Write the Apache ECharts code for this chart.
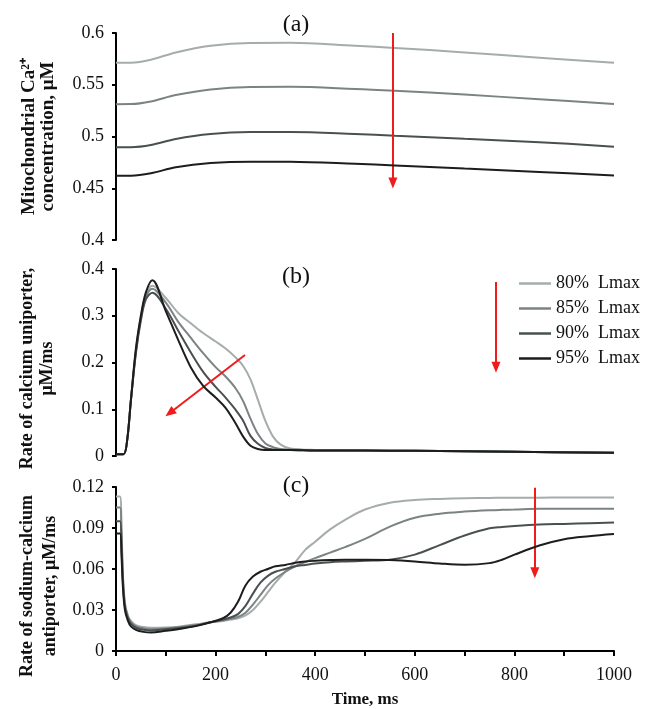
<!DOCTYPE html>
<html>
<head>
<meta charset="utf-8">
<script src="https://cdn.jsdelivr.net/npm/echarts@6/dist/echarts.min.js"></script>
<style>
  html, body { margin: 0; padding: 0; background: #fff; }
  #chart { width: 646px; height: 709px; }
</style>
</head>
<body>
<div id="chart"></div>
<script>
// Series labels and stroke colours (light to dark)
const seriesNames = ['80%  Lmax', '85%  Lmax', '90%  Lmax', '95%  Lmax'];
const seriesColors = ['#a6acac', '#7c8384', '#4a5051', '#1d1d1d'];

// (a) Mitochondrial Ca2+ concentration, µM
const timeA = [0, 30, 70, 120, 190, 270, 350, 480, 560, 700, 850, 1000];
const caMito80 = [0.5712, 0.5713, 0.5742, 0.5812, 0.5876, 0.5904, 0.5906, 0.5876, 0.5856, 0.5812, 0.5762, 0.5712];
const caMito85 = [0.5312, 0.5313, 0.5338, 0.5400, 0.5455, 0.5478, 0.5480, 0.5460, 0.5442, 0.5405, 0.5360, 0.5315];
const caMito90 = [0.4895, 0.4896, 0.4918, 0.4976, 0.5024, 0.5043, 0.5044, 0.5025, 0.5008, 0.4978, 0.4945, 0.4902];
const caMito95 = [0.4620, 0.4621, 0.4645, 0.4702, 0.4743, 0.4757, 0.4756, 0.4736, 0.4720, 0.4690, 0.4658, 0.4622];

// (b) Rate of calcium uniporter, µM/ms
const timeB = [0, 15, 22, 30, 40, 50, 60, 73, 100, 125, 150, 175, 200, 220, 240, 255, 270, 285, 300, 315, 330, 350, 400, 500, 600, 800, 1000];
const uni80 = [0.004, 0.004, 0.03, 0.12, 0.225, 0.300, 0.345, 0.364, 0.338, 0.306, 0.284, 0.263, 0.245, 0.230, 0.211, 0.193, 0.164, 0.120, 0.075, 0.042, 0.025, 0.016, 0.013, 0.012, 0.011, 0.009, 0.007];
const uni85 = [0.004, 0.004, 0.03, 0.12, 0.225, 0.295, 0.340, 0.358, 0.328, 0.287, 0.253, 0.220, 0.190, 0.170, 0.145, 0.118, 0.080, 0.047, 0.027, 0.019, 0.015, 0.014, 0.012, 0.012, 0.011, 0.009, 0.007];
const uni90 = [0.004, 0.004, 0.03, 0.12, 0.220, 0.290, 0.335, 0.349, 0.315, 0.268, 0.222, 0.180, 0.148, 0.125, 0.099, 0.076, 0.043, 0.026, 0.017, 0.014, 0.013, 0.013, 0.012, 0.012, 0.011, 0.009, 0.007];
const uni95 = [0.004, 0.004, 0.03, 0.12, 0.230, 0.300, 0.350, 0.376, 0.310, 0.248, 0.190, 0.150, 0.125, 0.103, 0.070, 0.042, 0.022, 0.015, 0.013, 0.013, 0.013, 0.013, 0.012, 0.012, 0.011, 0.009, 0.007];

// (c) Rate of sodium-calcium antiporter, µM/ms
const timeC = [0, 8, 11, 14, 18, 24, 30, 40, 55, 70, 100, 130, 160, 190, 215, 230, 245, 260, 275, 290, 305, 320, 340, 360, 380, 400, 430, 460, 500, 550, 600, 650, 700, 750, 775, 800, 850, 900, 950, 1000];
const ncx80 = [0.113, 0.113, 0.090, 0.055, 0.035, 0.026, 0.022, 0.019, 0.0175, 0.017, 0.0172, 0.018, 0.0195, 0.021, 0.022, 0.023, 0.024, 0.026, 0.030, 0.036, 0.043, 0.050, 0.058, 0.065, 0.074, 0.080, 0.089, 0.096, 0.1035, 0.1085, 0.1105, 0.1113, 0.1118, 0.112, 0.1121, 0.1122, 0.1122, 0.1123, 0.1123, 0.1123];
const ncx85 = [0.105, 0.105, 0.085, 0.053, 0.034, 0.025, 0.021, 0.018, 0.0165, 0.016, 0.0165, 0.0175, 0.019, 0.021, 0.0225, 0.0235, 0.025, 0.028, 0.034, 0.041, 0.048, 0.053, 0.058, 0.062, 0.065, 0.068, 0.072, 0.076, 0.082, 0.091, 0.0975, 0.1005, 0.102, 0.103, 0.1033, 0.1035, 0.104, 0.104, 0.104, 0.104];
const ncx90 = [0.095, 0.095, 0.078, 0.050, 0.032, 0.024, 0.020, 0.017, 0.0155, 0.015, 0.016, 0.017, 0.0185, 0.021, 0.023, 0.0245, 0.027, 0.033, 0.042, 0.050, 0.055, 0.058, 0.060, 0.062, 0.063, 0.064, 0.065, 0.0655, 0.066, 0.0668, 0.0705, 0.0775, 0.0845, 0.0898, 0.0908, 0.0915, 0.0925, 0.093, 0.0935, 0.094];
const ncx95 = [0.086, 0.086, 0.070, 0.046, 0.030, 0.022, 0.018, 0.0155, 0.014, 0.0135, 0.0148, 0.0163, 0.0182, 0.021, 0.024, 0.028, 0.036, 0.048, 0.0545, 0.058, 0.060, 0.062, 0.063, 0.0645, 0.0655, 0.066, 0.0665, 0.0668, 0.0668, 0.0665, 0.0655, 0.064, 0.0631, 0.0643, 0.0668, 0.0705, 0.0772, 0.0818, 0.084, 0.0856];

// Red trend arrows, [x, y] in data units: [start, end]
const arrowA = [[556, 0.6], [556, 0.455]];
const arrowB1 = [[763, 0.372], [763, 0.19]];
const arrowB2 = [[259, 0.216], [108, 0.092]];
const arrowC = [[841, 0.1195], [841, 0.0573]];

const serif = 'Liberation Serif';
const chart = echarts.init(document.getElementById('chart'));

const grids = [
  { left: 116, right: 32, top: 33, height: 207 },
  { left: 116, right: 32, top: 269, height: 187 },
  { left: 116, right: 32, top: 487, height: 165 }
];

function pairs(times, vals) { return times.map((t, i) => [t, vals[i]]); }

function arrowLine(seg) {
  return {
    silent: true,
    animation: false,
    symbol: ['none', 'triangle'],
    symbolSize: [9, 11],
    label: { show: false },
    lineStyle: { color: '#f01c1c', width: 2, type: 'solid' },
    itemStyle: { color: '#f01c1c' },
    emphasis: { disabled: true },
    data: [[{ coord: seg[0] }, { coord: seg[1] }]]
  };
}

const panels = [
  { times: timeA, vals: [caMito80, caMito85, caMito90, caMito95], arrows: [arrowA] },
  { times: timeB, vals: [uni80, uni85, uni90, uni95], arrows: [arrowB1, arrowB2] },
  { times: timeC, vals: [ncx80, ncx85, ncx90, ncx95], arrows: [arrowC] }
];

const series = [];
panels.forEach((p, gi) => {
  p.vals.forEach((v, si) => {
    series.push({
      name: seriesNames[si],
      type: 'line',
      xAxisIndex: gi,
      yAxisIndex: gi,
      data: pairs(p.times, v),
      showSymbol: false,
      symbol: 'none',
      smooth: 0.35,
      lineStyle: { color: seriesColors[si], width: 2 },
      itemStyle: { color: seriesColors[si] },
      animation: false,
      z: 2 + si
    });
  });
  // arrows ride on dedicated empty series so they sit on top
  p.arrows.forEach(seg => {
    series.push({
      type: 'line', xAxisIndex: gi, yAxisIndex: gi, data: [],
      symbol: 'none', animation: false, z: 10,
      markLine: arrowLine(seg)
    });
  });
});

const axisLineStyle = { show: true, lineStyle: { color: '#000', width: 2 } };
const tickLabel = { fontFamily: serif, fontSize: 18, color: '#111', margin: 12 };

function xAx(gi, visible) {
  return {
    type: 'value', gridIndex: gi, min: 0, max: 1000, interval: 100,
    show: visible,
    axisLine: axisLineStyle,
    axisTick: { show: true, inside: false, length: 5, lineStyle: { color: '#000', width: 2 } },
    axisLabel: Object.assign({}, tickLabel, {
      margin: 15,
      formatter: v => (v % 200 === 0 ? String(v) : '')
    }),
    splitLine: { show: false },
    name: visible ? 'Time, ms' : '',
    nameLocation: 'middle',
    nameGap: 40,
    nameTextStyle: { fontFamily: serif, fontSize: 17, fontWeight: 'bold', color: '#111' }
  };
}

function yAx(gi, min, max, interval, name, fmt, nameFont, nameGap, shift) {
  return {
    type: 'value', gridIndex: gi, min: min, max: max, interval: interval,
    axisLine: axisLineStyle,
    axisTick: { show: true, inside: false, length: 4, lineStyle: { color: '#000', width: 2 } },
    axisLabel: Object.assign({}, tickLabel, { formatter: fmt }),
    splitLine: { show: false },
    name: name,
    nameLocation: 'middle',
    nameGap: nameGap,
    nameTextStyle: {
      fontFamily: serif, fontSize: nameFont.size, fontWeight: 'bold', color: '#111',
      lineHeight: nameFont.lh, padding: [0, shift, 0, 0]
    }
  };
}

const trim = d => v => String(parseFloat(v.toFixed(d)));

const titleStyle = { fontFamily: serif, fontSize: 24, fontWeight: 'normal', color: '#111' };

const option = {
  backgroundColor: '#fff',
  animation: false,
  title: [
    { text: '(a)', left: 291, top: 8, textAlign: 'center', textStyle: titleStyle },
    { text: '(b)', left: 291, top: 260, textAlign: 'center', textStyle: titleStyle },
    { text: '(c)', left: 291, top: 469, textAlign: 'center', textStyle: titleStyle }
  ],
  legend: {
    data: seriesNames,
    orient: 'vertical',
    left: 514,
    top: 269,
    icon: 'rect',
    itemWidth: 32,
    itemHeight: 2.5,
    itemGap: 6,
    selectedMode: false,
    textStyle: { fontFamily: serif, fontSize: 18, color: '#111', lineHeight: 19 }
  },
  grid: grids,
  xAxis: [xAx(0, false), xAx(1, false), xAx(2, true)],
  yAxis: [
    yAx(0, 0.4, 0.6, 0.05, 'Mitochondrial Ca²⁺\nconcentration, μM', trim(2), { size: 19, lh: 19 }, 58, 0),
    yAx(1, 0, 0.4, 0.1, 'Rate of calcium uniporter,\nμM/ms', trim(1), { size: 18, lh: 20 }, 59, 12),
    yAx(2, 0, 0.12, 0.03, 'Rate of sodium-calcium\nantiporter, μM/ms', trim(2), { size: 18, lh: 23 }, 49, 34)
  ],
  series: series
};

chart.setOption(option);
</script>
</body>
</html>
